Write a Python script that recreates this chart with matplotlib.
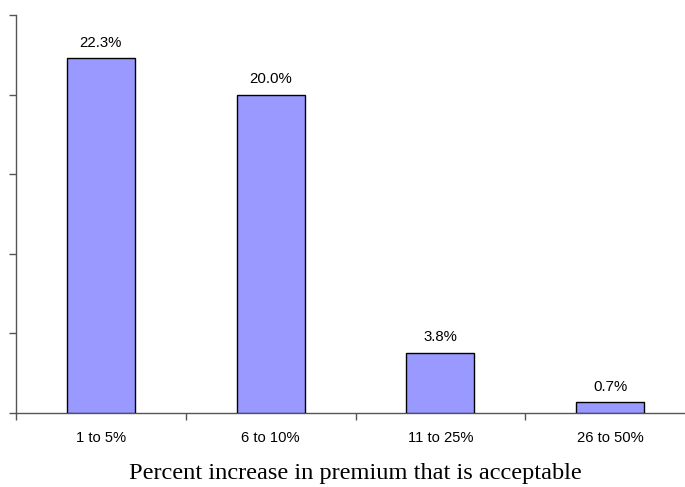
import matplotlib
matplotlib.use("Agg")
import matplotlib.pyplot as plt
import numpy as np

categories = ["1 to 5%", "6 to 10%", "11 to 25%", "26 to 50%"]
values = [22.3, 20.0, 3.8, 0.7]
labels = ["22.3%", "20.0%", "3.8%", "0.7%"]

fig = plt.figure(figsize=(6.85, 4.87), dpi=100)
ax = fig.add_axes([16 / 685, (487 - 413) / 487, 679 / 685, 398 / 487])

x = np.arange(len(categories))
ax.bar(x, values, width=0.4, color="#9999FF", edgecolor="black", linewidth=1.0, zorder=3)

for xi, v, lab in zip(x, values, labels):
    ax.annotate(lab, (xi, v), xytext=(0, 6), textcoords="offset points",
                ha="center", va="bottom", fontsize=10.8, family="Liberation Sans")

ax.set_xlim(-0.5, 3.5)
ax.set_ylim(0, 25)
ax.set_yticks(np.arange(0, 26, 5))
ax.set_yticklabels([])
ax.tick_params(axis="y", direction="out", length=5, width=1, color="#555555")

ax.set_xticks(x)
ax.set_xticklabels(categories, fontsize=10.6, family="Liberation Sans")
ax.set_xticks(np.arange(-0.5, 4.0, 1.0), minor=True)
ax.tick_params(axis="x", which="major", length=0, pad=13)
ax.tick_params(axis="x", which="minor", direction="out", length=5, width=1, color="#555555")

for side in ("top", "right"):
    ax.spines[side].set_visible(False)
for side in ("left", "bottom"):
    ax.spines[side].set_color("#555555")
    ax.spines[side].set_linewidth(1.0)

ax.set_xlabel("Percent increase in premium that is acceptable",
              fontsize=17.6, family="Liberation Serif", labelpad=13)

fig.savefig("out.png", dpi=100)
